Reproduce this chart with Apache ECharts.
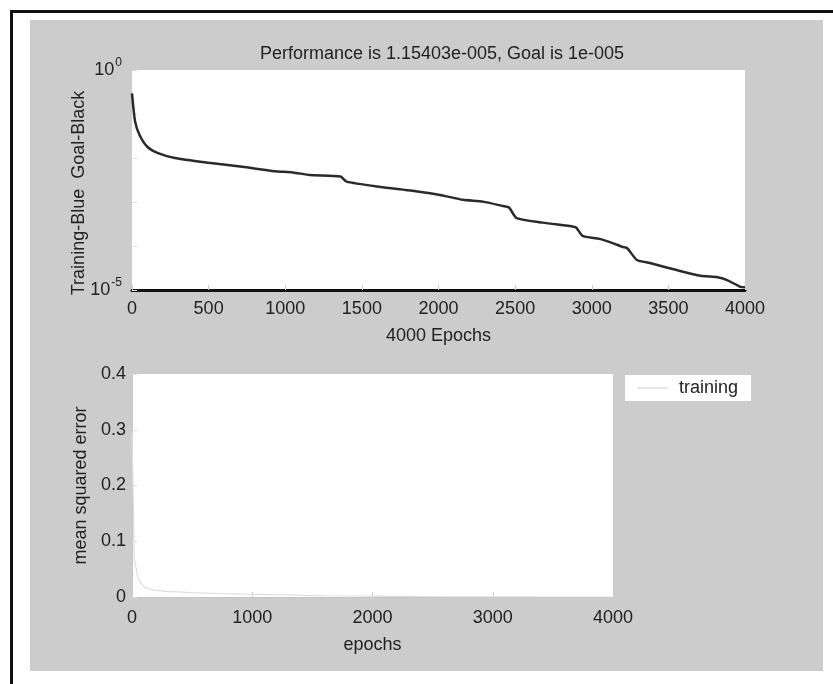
<!DOCTYPE html>
<html>
<head>
<meta charset="utf-8">
<title>Training performance</title>
<script src="https://cdn.jsdelivr.net/npm/echarts@6/dist/echarts.min.js"></script>
<style>
  html, body { margin: 0; padding: 0; background: #fff; }
  #chart { width: 833px; height: 684px; }
</style>
</head>
<body>
<div id="chart"></div>
<script>
const epochs = [0, 20, 50, 100, 170, 280, 500, 720, 930, 1050, 1160, 1360, 1400, 1620, 1830, 2010,
  2160, 2290, 2420, 2460, 2510, 2680, 2880, 2900, 2940, 3050, 3140, 3200, 3230, 3295, 3380, 3560,
  3710, 3820, 3880, 3970, 4000];
// training performance (mse)
const perf = [0.295, 0.068, 0.033, 0.018, 0.0129, 0.010, 0.0078, 0.0063, 0.0050, 0.0047, 0.0041,
  0.0038, 0.0029, 0.0022, 0.0018, 0.00145, 0.00112, 0.00102, 0.00081, 0.00075, 0.00043, 0.00034,
  0.000275, 0.00026, 0.00017, 0.000145, 0.000115, 0.0000955, 0.00009, 0.000048, 0.000041,
  0.000028, 0.000021, 0.0000195, 0.000017, 0.0000118, 0.0000115];

const titleText = 'Performance is 1.15403e-005, Goal is 1e-005';
const topXTicks = [0, 500, 1000, 1500, 2000, 2500, 3000, 3500, 4000];
const bottomYTicks = [0, 0.1, 0.2, 0.3, 0.4];
const bottomXTicks = [0, 1000, 2000, 3000, 4000];

const font = "'Liberation Sans', Arial, sans-serif";
const textColor = '#222';
const fs = 18;

const pairs = epochs.map((e, i) => [e, perf[i]]);

const chart = echarts.init(document.getElementById('chart'));
chart.setOption({
  animation: false,
  textStyle: { fontFamily: font },
  graphic: [
    // grey figure panel
    { type: 'rect', shape: { x: 30, y: 20, width: 793, height: 651 }, style: { fill: '#cccccc' }, z: -10 },
    // black frame (top + left)
    { type: 'rect', shape: { x: 10, y: 10, width: 823, height: 3 }, style: { fill: '#111' }, z: -10 },
    { type: 'rect', shape: { x: 10, y: 10, width: 3, height: 674 }, style: { fill: '#111' }, z: -10 }
  ],
  title: {
    text: titleText,
    left: 437,
    top: 40,
    textAlign: 'center',
    textStyle: { fontSize: fs, fontWeight: 'normal', color: textColor, fontFamily: font }
  },
  legend: {
    data: [{ name: 'training', icon: 'rect' }],
    left: 625,
    top: 375,
    backgroundColor: '#fff',
    padding: [4, 13, 4, 12],
    itemWidth: 31,
    itemHeight: 1.5,
    itemGap: 0,
    textStyle: { fontSize: fs, color: textColor, padding: [0, 0, 0, 6] }
  },
  grid: [
    { left: 132, top: 70, width: 613, height: 220, backgroundColor: '#fff', show: true, borderWidth: 0 },
    { left: 132, top: 374, width: 481, height: 223, backgroundColor: '#fff', show: true, borderWidth: 0 }
  ],
  xAxis: [
    {
      gridIndex: 0, type: 'value', min: 0, max: 4000, interval: 500,
      name: '4000 Epochs', nameLocation: 'middle', nameGap: 37,
      nameTextStyle: { fontSize: fs, color: textColor },
      axisLine: { lineStyle: { color: '#111', width: 3 } },
      axisTick: { inside: true, length: 5, lineStyle: { color: '#ccc' } },
      axisLabel: { fontSize: fs, color: textColor, margin: 10,
        formatter: v => topXTicks.includes(v) ? String(v) : '' },
      splitLine: { show: false }
    },
    {
      gridIndex: 1, type: 'value', min: 0, max: 4000, interval: 1000,
      name: 'epochs', nameLocation: 'middle', nameGap: 39,
      nameTextStyle: { fontSize: fs, color: textColor },
      axisLine: { lineStyle: { color: '#c4c4c4', width: 1 } },
      axisTick: { inside: true, length: 5, lineStyle: { color: '#ccc' } },
      axisLabel: { fontSize: fs, color: textColor, margin: 12,
        formatter: v => bottomXTicks.includes(v) ? String(v) : '' },
      splitLine: { show: false }
    }
  ],
  yAxis: [
    {
      gridIndex: 0, type: 'log', logBase: 10, min: 1e-5, max: 1,
      name: 'Training-Blue  Goal-Black', nameLocation: 'middle', nameGap: 44,
      nameMoveOverlap: false,
      nameTextStyle: { fontSize: fs, color: textColor, padding: [0, 26, 0, 0] },
      axisLine: { show: false },
      axisTick: { inside: true, length: 5, lineStyle: { color: '#ddd' } },
      axisLabel: {
        margin: 10,
        formatter: v => {
          const p = Math.round(Math.log10(v));
          if (p === 0 || p === -5) return '{b|10}{s|' + p + '}';
          return '';
        },
        rich: {
          b: { fontSize: fs, color: textColor, fontFamily: font },
          s: { fontSize: 12, color: textColor, fontFamily: font, padding: [0, 0, 14, 1] }
        }
      },
      splitLine: { show: false }
    },
    {
      gridIndex: 1, type: 'value', min: 0, max: 0.4, interval: 0.1,
      name: 'mean squared error', nameLocation: 'middle', nameGap: 38,
      nameTextStyle: { fontSize: fs, color: textColor },
      axisLine: { show: true, lineStyle: { color: '#c4c4c4', width: 1 } },
      axisTick: { inside: true, length: 5, lineStyle: { color: '#ddd' } },
      axisLabel: { fontSize: fs, color: textColor, margin: 6,
        formatter: v => bottomYTicks.some(t => Math.abs(t - v) < 1e-9) ? String(+v.toFixed(1)) : '' },
      splitLine: { show: false }
    }
  ],
  series: [
    {
      name: 'performance', type: 'line', xAxisIndex: 0, yAxisIndex: 0,
      data: pairs, symbol: 'none', smooth: 0.2,
      lineStyle: { color: '#2a2a2a', width: 2.5 }
    },
    {
      name: 'training', type: 'line', xAxisIndex: 1, yAxisIndex: 1,
      data: pairs, symbol: 'none',
      lineStyle: { color: '#dedede', width: 1.2 },
      itemStyle: { color: '#dedede' }
    }
  ]
});
</script>
</body>
</html>
